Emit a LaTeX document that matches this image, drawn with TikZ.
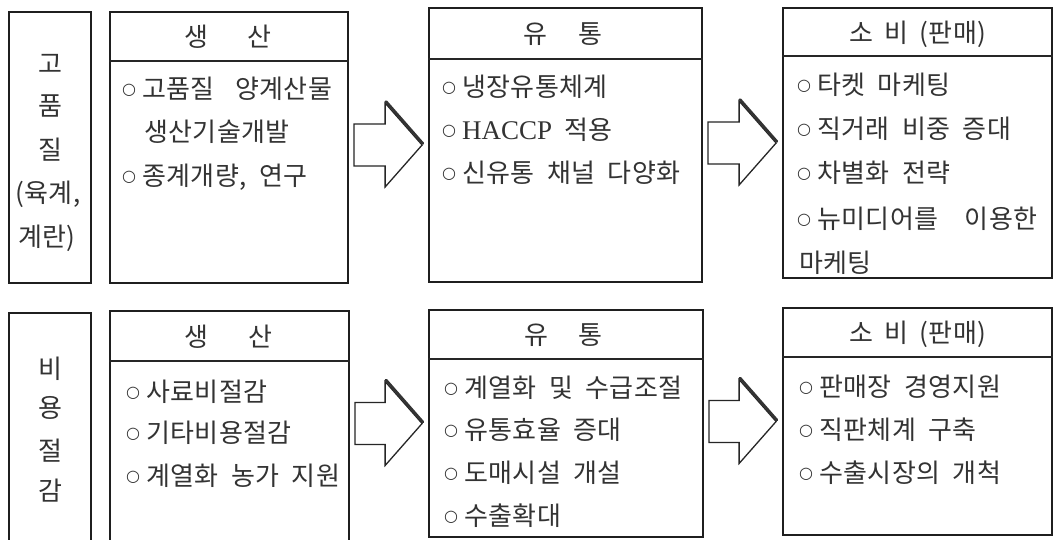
\documentclass[tikz,border=0pt]{standalone}
\usepackage{fontspec}
\usetikzlibrary{calc}
\newfontfamily\kr[WordSpace=2.0,LetterSpace=1.5]{Noto Sans CJK KR}
\newfontfamily\dv{DejaVu Sans}
\newfontfamily\lserif{Liberation Serif}
\newcommand\bul{\makebox[20pt][l]{\raisebox{4.8pt}{\fontsize{16}{16}\dv ○}}}
\newcommand\hac{{\fontsize{27}{27}\lserif HACCP}}
\tikzset{
  frame/.style={draw=black!88, line width=1.8pt, inner sep=0pt, fill=white},
  hline/.style={draw=black!85, line width=1.4pt},
  txt/.style={inner sep=0pt, font=\kr\fontsize{26}{26}\selectfont, text=black!80},
  item/.style={txt, anchor=base west},
  head/.style={txt, anchor=base},
  lbl/.style={txt, anchor=base},
  arr/.style={draw=black!85, line width=1.3pt, line join=miter},
  arrshade/.style={draw=black!80, line width=2.6pt, line cap=round},
}
\newcommand\blockarrow[3]{%
  \coordinate (#3t) at ($(#2.west)+(-6,0)$);
  \coordinate (#3s) at ($(#1.east)+(5,0)$);
  \draw[arr] ($(#3s|-#3t)+(0,-21)$) -- ($(#3t)+(-37,-21)$) -- ($(#3t)+(-37,-42)$) -- (#3t)
     -- ($(#3t)+(-37,42)$) -- ($(#3t)+(-37,21)$) -- ($(#3s|-#3t)+(0,21)$) -- cycle;
  \draw[arrshade] ($(#3t)+(-36,-43.5)$) -- ($(#3t)+(0.8,-1.5)$);
}
\begin{document}
\begin{tikzpicture}[x=1pt,y=-1pt]
\useasboundingbox[fill=white] (0,0) rectangle (1058,539);
\def\bo{9.8}
% ---------- top row ----------
\node[frame, minimum width=82pt, minimum height=271pt] (L1) at (50,147.5) {};
\node[frame, minimum width=238pt, minimum height=271pt] (P1) at (229,147.5) {};
\node[frame, minimum width=273pt, minimum height=274pt] (D1) at (565.5,145) {};
\node[frame, minimum width=269pt, minimum height=270pt] (C1) at (917.5,143) {};
\draw[hline] ([yshift=-50pt]P1.north west) -- ([yshift=-50pt]P1.north east);
\draw[hline] ([yshift=-52pt]D1.north west) -- ([yshift=-52pt]D1.north east);
\draw[hline] ([yshift=-49pt]C1.north west) -- ([yshift=-49pt]C1.north east);
\node[head] (P1h) at (228,37+\bo) {생\hspace{40pt}산};
\node[head] (D1h) at (563,34+\bo) {유\hspace{31pt}통};
\node[head] (C1h) at (918,32.5+\bo) {소\hspace{11pt}비\hspace{11pt}(판매)};
\node[lbl] (L1a) at (50,64+\bo) {고};
\node[lbl] (L1b) at (50,106+\bo) {품};
\node[lbl] (L1c) at (50,150+\bo) {질};
\node[lbl] (L1d) at (48,193+\bo) {(육계,};
\node[lbl] (L1e) at (47,237+\bo) {계란)};
\node[item] (P1a) at (122,89+\bo) {\bul 고품질\hspace{8pt} 양계산물};
\node[item] (P1b) at (144,132+\bo) {생산기술개발};
\node[item] (P1c) at (122,176+\bo) {\bul 종계개량, 연구};
\node[item] (D1a) at (442,87+\bo) {\bul 냉장유통체계};
\node[item] (D1b) at (442,130+\bo) {\bul \hac\ 적용};
\node[item] (D1c) at (442,173+\bo) {\bul 신유통 채널 다양화};
\node[item] (C1a) at (797,85+\bo) {\bul 타켓 마케팅};
\node[item] (C1b) at (797,129+\bo) {\bul 직거래 비중 증대};
\node[item] (C1c) at (797,173+\bo) {\bul 차별화 전략};
\node[item] (C1d) at (797,219+\bo) {\bul 뉴미디어를\hspace{14pt} 이용한};
\node[item] (C1e) at (799,263+\bo) {마케팅};
% ---------- bottom row ----------
\node[frame, minimum width=82pt, minimum height=229pt] (L2) at (50,427.5) {};
\node[frame, minimum width=239pt, minimum height=231pt] (P2) at (229.5,426.5) {};
\node[frame, minimum width=274pt, minimum height=227pt] (D2) at (566,423.5) {};
\node[frame, minimum width=269pt, minimum height=227pt] (C2) at (917.5,421.5) {};
\draw[hline] ([yshift=-51pt]P2.north west) -- ([yshift=-51pt]P2.north east);
\draw[hline] ([yshift=-50pt]D2.north west) -- ([yshift=-50pt]D2.north east);
\draw[hline] ([yshift=-50pt]C2.north west) -- ([yshift=-50pt]C2.north east);
\node[head] (P2h) at (228.5,337+\bo) {생\hspace{40pt}산};
\node[head] (D2h) at (563.5,335+\bo) {유\hspace{31pt}통};
\node[head] (C2h) at (918,333+\bo) {소\hspace{11pt}비\hspace{11pt}(판매)};
\node[lbl] (L2a) at (50,369+\bo) {비};
\node[lbl] (L2b) at (50,408+\bo) {용};
\node[lbl] (L2c) at (50,451+\bo) {절};
\node[lbl] (L2d) at (50,491+\bo) {감};
\node[item] (P2a) at (126,392+\bo) {\bul 사료비절감};
\node[item] (P2b) at (126,433+\bo) {\bul 기타비용절감};
\node[item] (P2c) at (126,476+\bo) {\bul 계열화 농가 지원};
\node[item] (D2a) at (444,388+\bo) {\bul 계열화 및 수급조절};
\node[item] (D2b) at (444,430+\bo) {\bul 유통효율 증대};
\node[item] (D2c) at (444,473+\bo) {\bul 도매시설 개설};
\node[item] (D2d) at (444,516+\bo) {\bul 수출확대};
\node[item] (C2a) at (799,387+\bo) {\bul 판매장 경영지원};
\node[item] (C2b) at (799,430+\bo) {\bul 직판체계 구축};
\node[item] (C2c) at (799,473+\bo) {\bul 수출시장의 개척};
% ---------- arrows ----------
\blockarrow{P1}{D1}{a1}
\blockarrow{D1}{C1}{a2}
\blockarrow{P2}{D2}{a3}
\blockarrow{D2}{C2}{a4}
\end{tikzpicture}
\end{document}
